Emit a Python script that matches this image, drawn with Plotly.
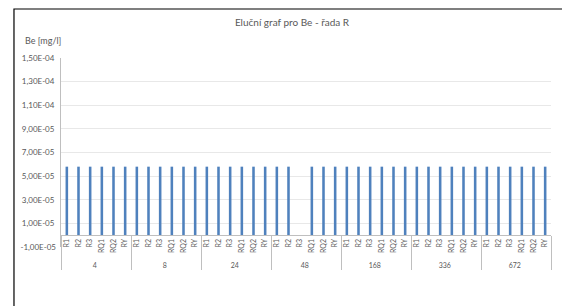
import plotly.graph_objects as go

groups = ['4', '8', '24', '48', '168', '336', '672']
samples = ['R1', 'R2', 'R3', 'RQ1', 'RQ2', 'RY']
values_4 = [5.8e-5, 5.8e-5, 5.8e-5, 5.8e-5, 5.8e-5, 5.8e-5]
values_8 = [5.8e-5, 5.8e-5, 5.8e-5, 5.8e-5, 5.8e-5, 5.8e-5]
values_24 = [5.8e-5, 5.8e-5, 5.8e-5, 5.8e-5, 5.8e-5, 5.8e-5]
values_48 = [5.8e-5, 5.8e-5, None, 5.8e-5, 5.8e-5, 5.8e-5]
values_168 = [5.8e-5, 5.8e-5, 5.8e-5, 5.8e-5, 5.8e-5, 5.8e-5]
values_336 = [5.8e-5, 5.8e-5, 5.8e-5, 5.8e-5, 5.8e-5, 5.8e-5]
values_672 = [5.8e-5, 5.8e-5, 5.8e-5, 5.8e-5, 5.8e-5, 5.8e-5]
grid_ticks = [1e-5, 3e-5, 5e-5, 7e-5, 9e-5, 1.1e-4, 1.3e-4, 1.5e-4]
bottom_tick = [-1e-5]

all_values = values_4 + values_8 + values_24 + values_48 + values_168 + values_336 + values_672
x_outer = [g for g in groups for _ in samples]
x_inner = [s for _ in groups for s in samples]


def excel_fmt(v):
    return f"{v:.2E}".replace('.', ',')


FONT = "Lato"
GRAY = "#595959"

# figure sits inside page body margin of 8px
W, H = 562, 298
L, R, T, B = 48, 19, 50, 59
PW, PH = W - L - R, H - T - B

fig = go.Figure()
fig.add_trace(go.Bar(
    x=[x_outer, x_inner], y=all_values,
    marker=dict(color="#4F81BD", line=dict(width=0)),
    width=0.22,
    showlegend=False,
))
fig.add_trace(go.Scatter(x=[x_outer[:1], x_inner[:1]], y=[None], yaxis="y2", showlegend=False))

y_range = [-1e-5, 1.5e-4]
pos0 = (0 - y_range[0]) / (y_range[1] - y_range[0])

fig.update_layout(
    width=W, height=H,
    margin=dict(l=L, r=R, t=T, b=B),
    paper_bgcolor="white", plot_bgcolor="white",
    font=dict(family=FONT, color=GRAY),
    title=dict(text="Eluční graf pro Be - řada R", x=284 / W, xanchor="center",
               y=1 - 14 / H, yanchor="middle", font=dict(size=10, color=GRAY, family=FONT)),
    xaxis=dict(
        type="multicategory", anchor="free", position=pos0,
        showline=True, linecolor="#bfbfbf", linewidth=1,
        showdividers=True, dividercolor="#bfbfbf", dividerwidth=1,
        tickangle=-90, tickfont=dict(size=7, color=GRAY, family=FONT),
        showgrid=False, ticks="",
        range=[-0.5, len(all_values) - 0.5],
    ),
    yaxis=dict(
        range=y_range, tickvals=grid_ticks, ticktext=[excel_fmt(v) for v in grid_ticks],
        tickfont=dict(size=8, color=GRAY, family=FONT),
        showgrid=True, gridcolor="#e8e8e8", gridwidth=1,
        zeroline=False, showline=True, linecolor="#bfbfbf", linewidth=1,
        ticks="", ticklabelstandoff=4,
    ),
    yaxis2=dict(
        range=y_range, overlaying="y", side="left", anchor="x",
        tickvals=bottom_tick, ticktext=[excel_fmt(v) for v in bottom_tick],
        tickfont=dict(size=8, color=GRAY, family=FONT),
        showgrid=False, zeroline=False, showline=False, ticks="", ticklabelstandoff=4,
    ),
    annotations=[dict(
        text="Be [mg/l]", xref="paper", yref="paper",
        x=(10 - L) / PW, y=(T + PH - 33) / PH, xanchor="left", yanchor="middle",
        showarrow=False, font=dict(size=9, color=GRAY, family=FONT),
    )],
    shapes=[dict(
        type="rect", xref="paper", yref="paper",
        x0=(0.5 - L) / PW, x1=1.2, y0=-0.5, y1=(T + PH - 1) / PH,
        line=dict(color="black", width=1.2), fillcolor="rgba(0,0,0,0)", layer="above",
    )],
)

fig.write_html("out.html")
